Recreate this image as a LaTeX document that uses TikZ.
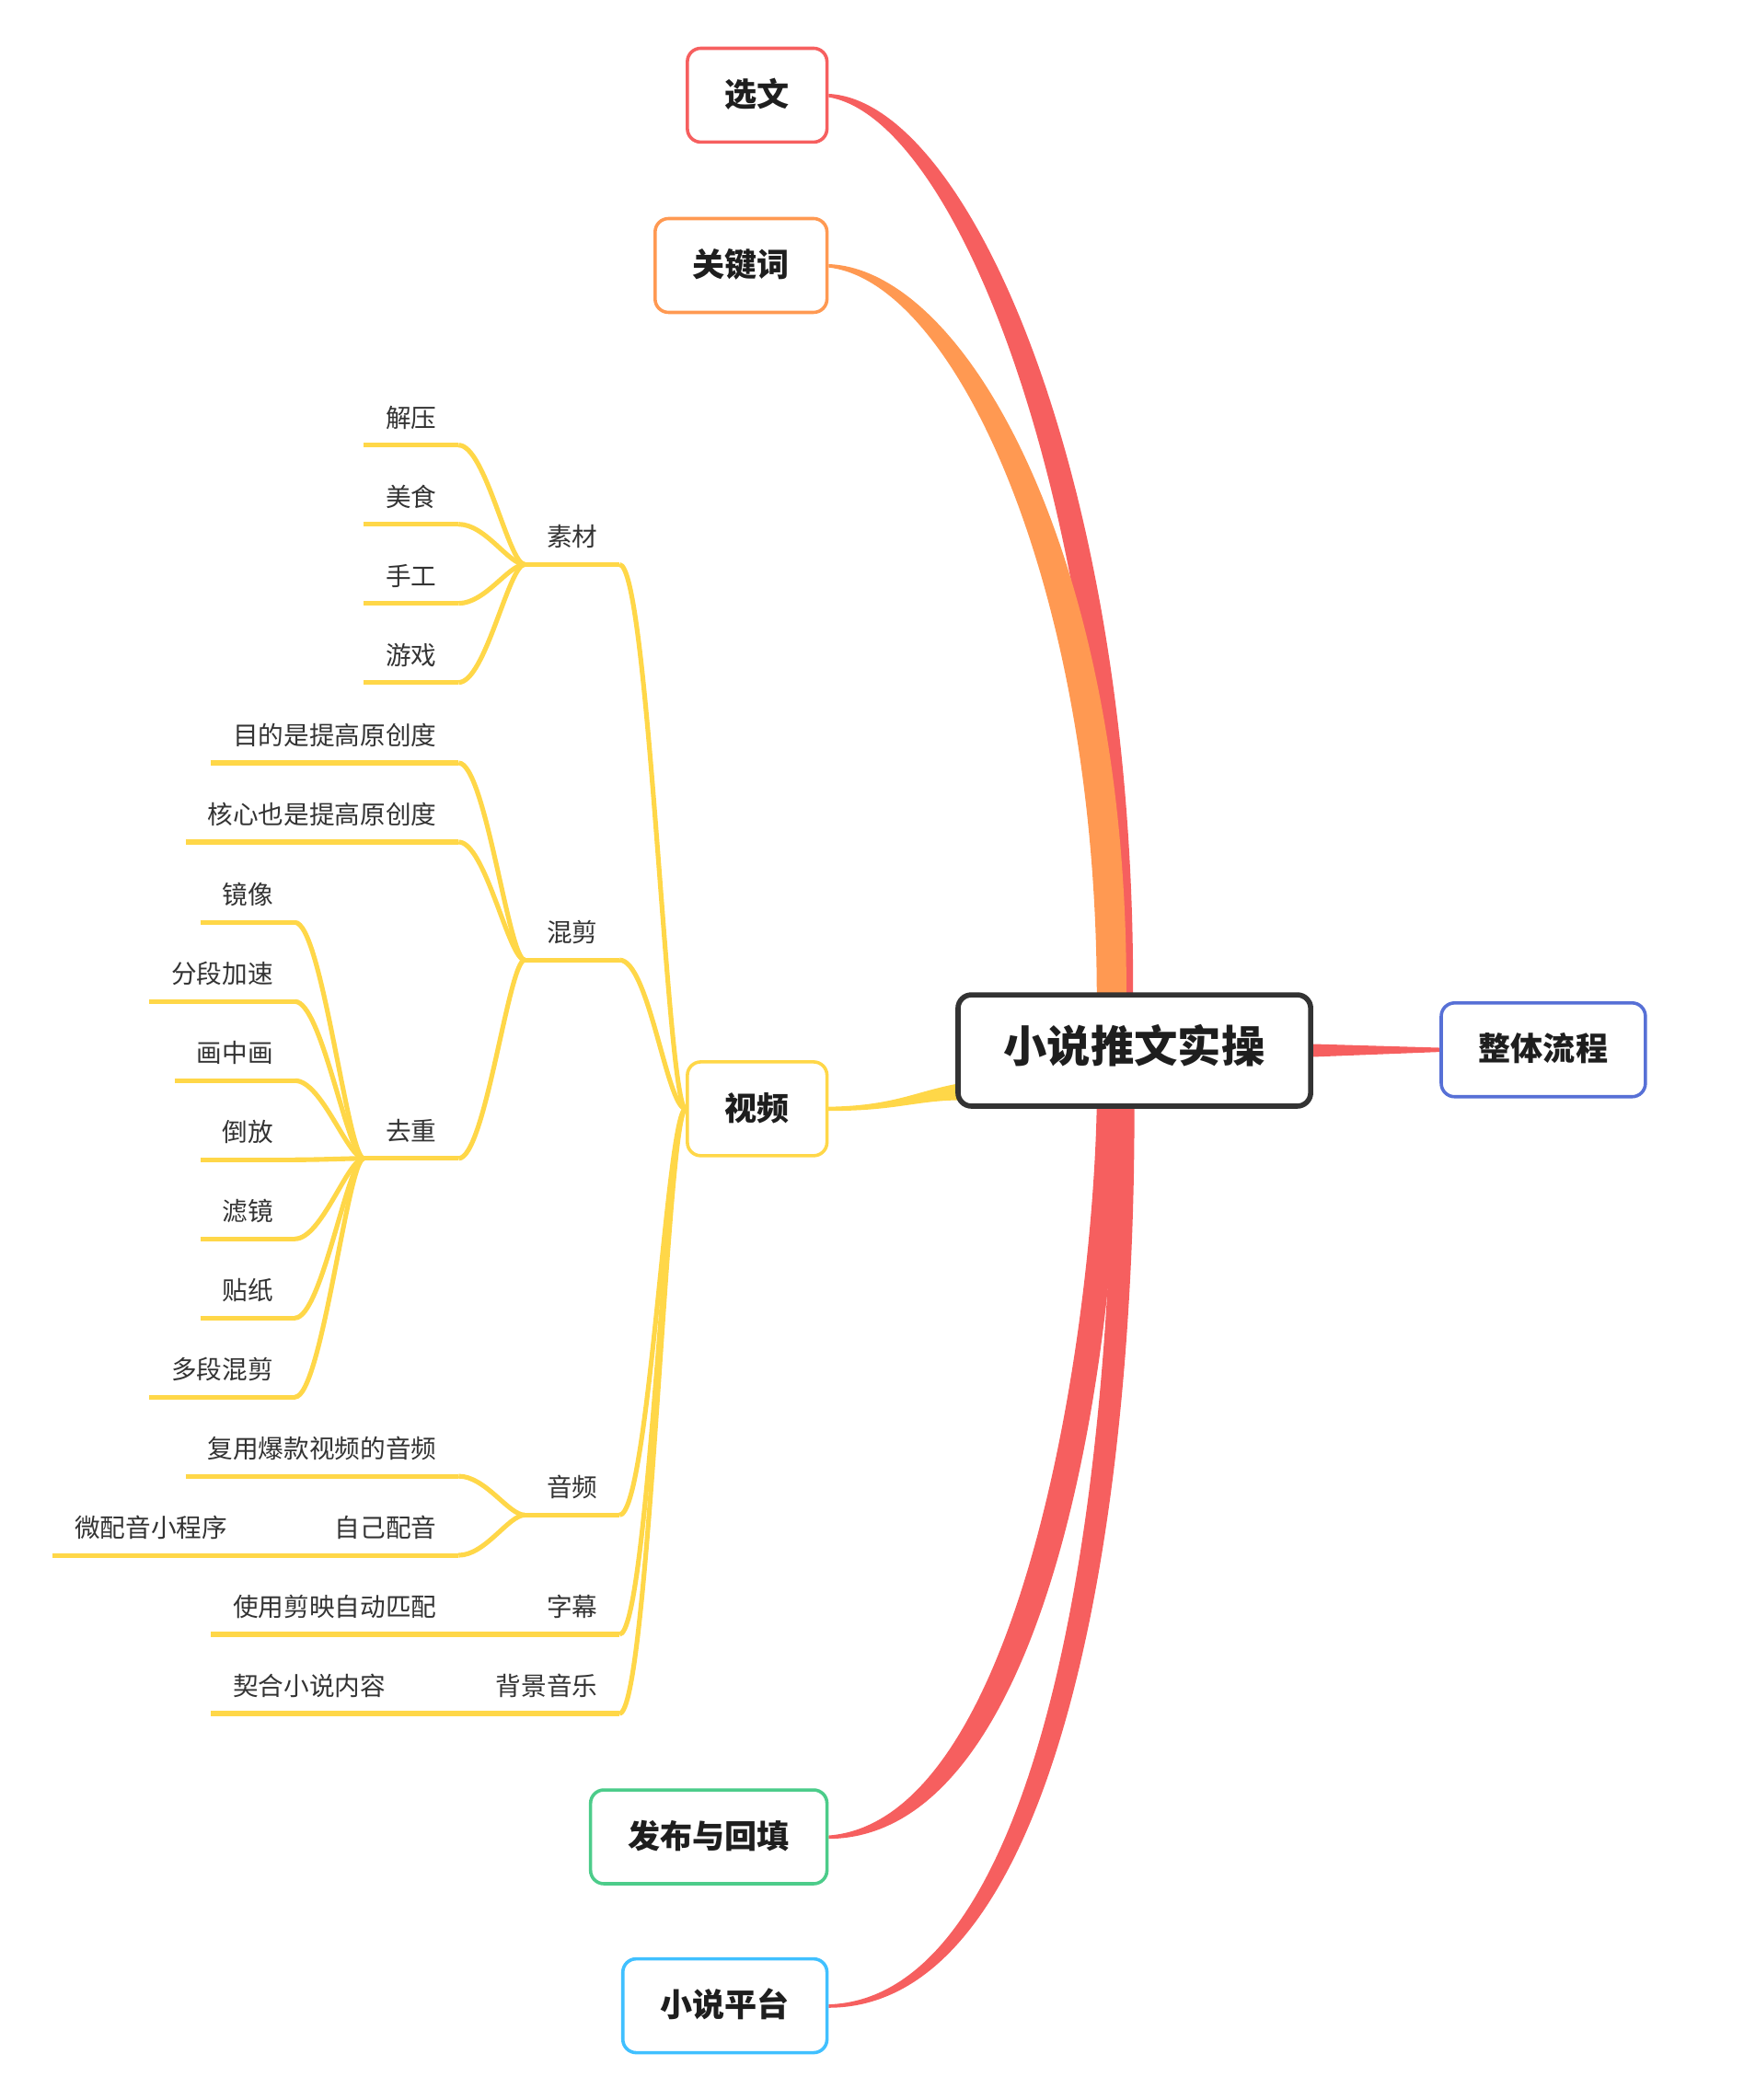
\documentclass[tikz,border=0pt]{standalone}
\usepackage{fontspec}
\setmainfont{Noto Sans CJK SC}
\usetikzlibrary{calc,positioning,backgrounds}
\definecolor{mmred}{RGB}{246,95,95}
\definecolor{mmorange}{RGB}{255,153,82}
\definecolor{mmyellow}{RGB}{255,215,72}
\definecolor{mmgreen}{RGB}{76,204,138}
\definecolor{mmsky}{RGB}{64,192,255}
\definecolor{mmblue}{RGB}{87,112,214}
\definecolor{mmdark}{RGB}{51,51,51}
\definecolor{mmtext}{RGB}{30,30,30}
\tikzset{
mindmap/.style={x=0.02cm,y=-0.02cm},
central/.style={draw=mmdark,line width=2.2pt,rounded corners=0.2cm,fill=white,
    text=mmtext,font=\fontsize{18.5}{22}\selectfont\bfseries,
    minimum height=1.66cm,inner xsep=0.68cm,text height=0.98em,text depth=0em},
topic/.style={draw=#1,line width=1.4pt,rounded corners=0.2cm,fill=white,
    text=mmtext,font=\fontsize{13.7}{16}\selectfont\bfseries,
    minimum height=1.4cm,inner xsep=0.56cm,text height=0.95em,text depth=0em,
    anchor=east},
sub/.style={text=mmdark,font=\fontsize{10.8}{13}\selectfont,inner xsep=0.32cm,
    inner ysep=0.22cm,text height=0.3cm,text depth=0.04cm,anchor=south east},
branch/.style={draw=mmyellow,line width=2pt},
fan/.style 2 args={to path={.. controls +(-#1,0) and +(#2,0) .. (\tikztotarget)}},
}

\begin{document}
\begin{tikzpicture}[mindmap]
    \useasboundingbox (0,0) rectangle (1300,1566.3);

    % main topics
    \node[central] (root) at (846,783.5) {小说推文实操};
    \node[topic=mmblue,anchor=center] (flow) at (1151,783) {整体流程};
    \node[topic=mmred] (select) at (618,71) {选文};
    \node[topic=mmorange] (keyword) at (618,198) {关键词};
    \node[topic=mmyellow] (video) at (618,827) {视频};
    \node[topic=mmgreen] (publish) at (618,1370) {发布与回填};
    \node[topic=mmsky] (platform) at (618,1496) {小说平台};

    % video branch
    \node[sub] (material) at (462,421) {素材};
    \node[sub] (remix) at (462,716) {混剪};
    \node[sub] (audio) at (462,1130) {音频};
    \node[sub] (subtitle) at (462,1219) {字幕};
    \node[sub] (bgm) at (462,1278) {背景音乐};

    \foreach \t [count=\i] in {解压,美食,手工,游戏}
        \node[sub] (mat\i) at (342,{273+59*\i}) {\t};

    \node[sub] (aim) at (342,569) {目的是提高原创度};
    \node[sub] (core) at (342,628) {核心也是提高原创度};
    \node[sub] (dedup) at (342,864) {去重};
    \foreach \t [count=\i] in {镜像,分段加速,画中画,倒放,滤镜,贴纸,多段混剪}
        \node[sub] (dedup\i) at (220,{629+59*\i}) {\t};

    \node[sub] (reuse) at (342,1101) {复用爆款视频的音频};
    \node[sub] (dub) at (342,1160) {自己配音};
    \node[sub] (dubapp) at (186,1160) {微配音小程序};
    \node[sub] (autosub) at (342,1219) {使用剪映自动匹配};
    \node[sub] (fitbgm) at (304,1278) {契合小说内容};

    \begin{scope}[on background layer]
    % tapered main connectors
    \fill[mmred] ($(select.east)+(0,-1)$) .. controls ($(select.east)+(104,4)$)
        and ($(root.north)+(1,-382)$) .. ($(root.north)+(-1,4)$)
        -- ($(root.north)+(-18,4)$) .. controls ($(root.north)+(-20,-370)$)
        and ($(select.east)+(94,17)$) .. ($(select.east)+(0,1.5)$) -- cycle;
    \fill[mmorange] ($(keyword.east)+(0,-1)$) .. controls ($(keyword.east)+(104,3)$)
        and ($(root.north)+(-4,-320)$) .. ($(root.north)+(-6,4)$)
        -- ($(root.north)+(-28,4)$) .. controls ($(root.north)+(-28,-302)$)
        and ($(keyword.east)+(94,12)$) .. ($(keyword.east)+(0,1.5)$) -- cycle;
    \fill[mmred] ($(publish.east)+(0,1.5)$) .. controls ($(publish.east)+(167,0)$)
        and ($(root.south)+(-12,173)$) .. ($(root.south)+(-12,-4)$)
        -- ($(root.south)+(-28,-4)$) .. controls ($(root.south)+(-31,173)$)
        and ($(publish.east)+(142,-12)$) .. ($(publish.east)+(0,-1)$) -- cycle;
    \fill[mmred] ($(platform.east)+(0,1.5)$) .. controls ($(platform.east)+(172,1)$)
        and ($(root.south)+(1,303)$) .. ($(root.south)+(0,-4)$)
        -- ($(root.south)+(-16,-4)$) .. controls ($(root.south)+(-17,313)$)
        and ($(platform.east)+(154,-6)$) .. ($(platform.east)+(0,-1)$) -- cycle;
    \fill[mmred] ($(root.east)+(-6,-5)$) -- ($(flow.west)+(2,-1.5)$)
        -- ($(flow.west)+(2,1.5)$) -- ($(root.east)+(-6,5)$) -- cycle;
    \fill[mmyellow] ($(video.east)+(-2,-1.5)$) .. controls ($(video.east)+(50,-2)$)
        and ($(root.west)+(-30,30)$) .. ($(root.west)+(6,24)$)
        -- ($(root.west)+(6,37)$) .. controls ($(root.west)+(-30,37)$)
        and ($(video.east)+(50,2)$) .. ($(video.east)+(-2,1.5)$) -- cycle;

    % underlines
    \foreach \n in {material,remix,audio,subtitle,bgm,mat1,mat2,mat3,mat4,
        aim,core,dedup,dedup1,dedup2,dedup3,dedup4,dedup5,dedup6,dedup7,
        reuse,dub,dubapp,autosub,fitbgm}
        \draw[branch] (\n.south west) -- (\n.south east);

    \path[branch]
        (video.west) edge[fan={14}{22}] (material.south east)
                     edge[fan={14}{22}] (remix.south east)
                     edge[fan={14}{22}] (audio.south east)
                     edge[fan={14}{22}] (subtitle.south east)
                     edge[fan={14}{22}] (bgm.south east)
        (remix.south west) edge[fan={12}{20}] (aim.south east)
                           edge[fan={12}{20}] (core.south east)
                           edge[fan={12}{20}] (dedup.south east)
        (audio.south west) edge[fan={12}{20}] (reuse.south east)
                           edge[fan={12}{20}] (dub.south east)
        (dub.south west) edge (dubapp.south east)
        (subtitle.south west) edge (autosub.south east)
        (bgm.south west) edge (fitbgm.south east)
    ;
    \foreach \i in {1,...,4}
        \path[branch] (material.south west) edge[fan={12}{20}] (mat\i.south east);
    \foreach \i in {1,...,7}
        \path[branch] (dedup.south west) edge[fan={12}{20}] (dedup\i.south east);
    \end{scope}
\end{tikzpicture}
\end{document}
